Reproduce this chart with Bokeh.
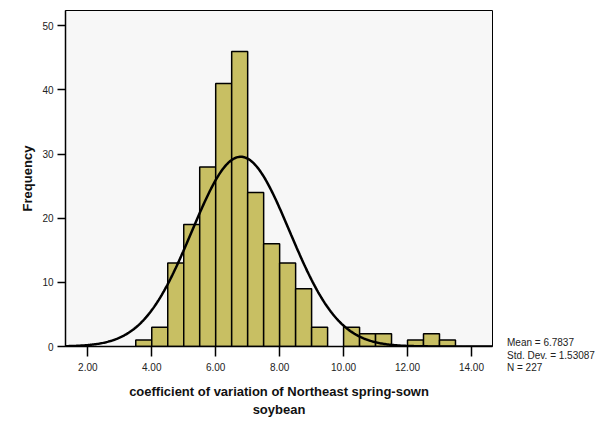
import numpy as np
from bokeh.plotting import figure
from bokeh.layouts import row
from bokeh.models import FixedTicker, Range1d, NumeralTickFormatter, Div
from bokeh.embed import file_html
from bokeh.resources import INLINE

# Histogram data (bin width 0.5)
bin_left = [3.5, 4.0, 4.5, 5.0, 5.5, 6.0, 6.5, 7.0, 7.5, 8.0, 8.5, 9.0, 9.5,
            10.0, 10.5, 11.0, 11.5, 12.0, 12.5, 13.0]
counts = [1, 3, 13, 19, 28, 41, 46, 24, 16, 13, 9, 3, 0, 3, 2, 2, 0, 1, 2, 1]
bin_width = 0.5

mean = 6.7837
std = 1.53087
n = 227

x_ticks = [2, 4, 6, 8, 10, 12, 14]
y_ticks = [0, 10, 20, 30, 40, 50]

XMIN, XMAX = 1.302, 14.658
YMIN, YMAX = 0, 52.38

H = 420
p = figure(width=494, height=H, output_backend="svg", toolbar_location=None,
           x_range=Range1d(XMIN, XMAX), y_range=Range1d(YMIN, YMAX),
           min_border_left=65, min_border_right=2, min_border_top=10,
           min_border_bottom=74)

p.background_fill_color = "#f7f7f7"
p.border_fill_color = "white"
p.outline_line_color = "black"
p.outline_line_width = 1
p.xgrid.visible = False
p.ygrid.visible = False

lefts = [b for b, c in zip(bin_left, counts) if c > 0]
tops = [c for c in counts if c > 0]
rights = [b + bin_width for b in lefts]
p.quad(left=lefts, right=rights, bottom=0, top=tops,
       fill_color="#c8bf63", line_color="black", line_width=1.5)

# fitted normal curve from the reported mean / std. dev. / N
xs = np.linspace(XMIN, XMAX, 400)
ys = n * bin_width * np.exp(-0.5 * ((xs - mean) / std) ** 2) / (std * np.sqrt(2 * np.pi))
p.line(xs, ys, line_color="black", line_width=2.5)

for ax in (p.xaxis[0], p.yaxis[0]):
    ax.axis_line_color = "black"
    ax.axis_line_width = 1.5
    ax.major_tick_line_color = "black"
    ax.major_tick_line_width = 1.5
    ax.major_tick_in = 0
    ax.minor_tick_line_color = None
    ax.major_label_text_font = "Liberation Sans"
    ax.major_label_text_font_size = "10px"
    ax.major_label_text_color = "#222222"
    ax.axis_label_text_font = "Liberation Sans"
    ax.axis_label_text_font_style = "bold"
    ax.axis_label_text_font_size = "13px"
    ax.axis_label_text_color = "#111111"

p.xaxis.ticker = FixedTicker(ticks=x_ticks)
p.xaxis.formatter = NumeralTickFormatter(format="0.00")
p.xaxis.major_tick_out = 10
p.xaxis.major_label_standoff = 6
p.xaxis.axis_label = "coefficient of variation of Northeast spring-sown\nsoybean"
p.xaxis.axis_label_standoff = 10
p.xaxis.axis_label_text_line_height = 1.25

p.yaxis.ticker = FixedTicker(ticks=y_ticks)
p.yaxis.major_tick_out = 8
p.yaxis.major_label_standoff = 4
p.yaxis.axis_label = "Frequency"
p.yaxis.axis_label_standoff = 4

# side panel holding the summary statistics
stats_lines = ["Mean = %.4f" % mean, "Std. Dev. = %.5f" % std, "N = %d" % n]
stats_html = (
    "<div style=\"font-family:'Liberation Sans',Arial,sans-serif;font-size:10px;"
    "line-height:12.5px;color:#222222;padding-top:337px;padding-left:13px;"
    "margin:0;white-space:nowrap;\">" + "<br>".join(stats_lines) + "</div>"
)
stats = Div(text=stats_html, width=112, height=H, margin=(0, 0, 0, 0))

layout = row(p, stats)
open("out.html", "w").write(file_html(layout, INLINE))
